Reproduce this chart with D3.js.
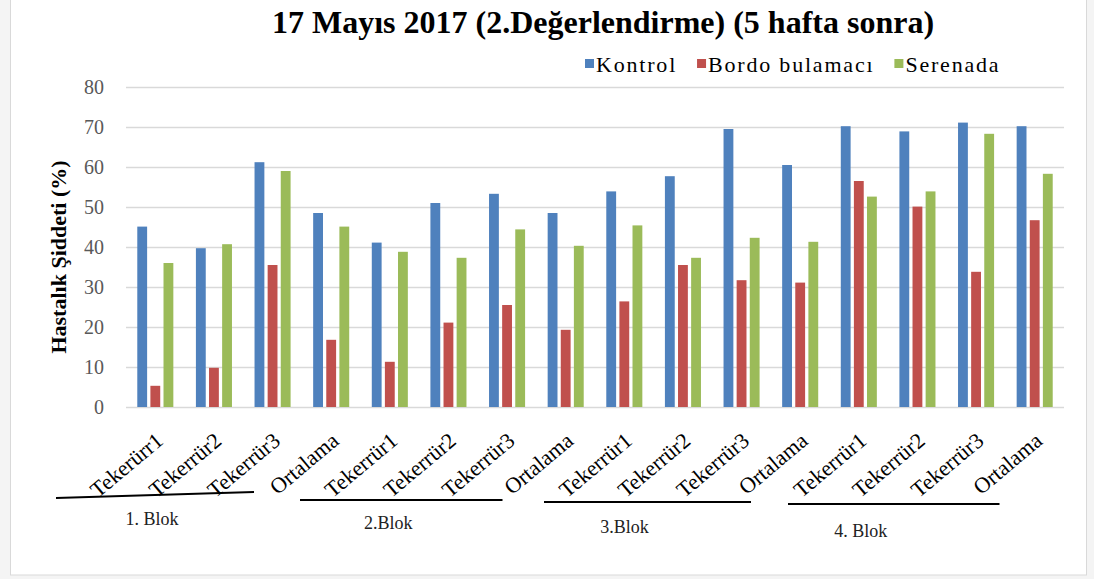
<!DOCTYPE html>
<html>
<head>
<meta charset="utf-8">
<script src="https://cdn.jsdelivr.net/npm/d3@7"></script>
<style>
  body { margin: 0; background: #f4f4f4; }
  svg { display: block; font-family: "Liberation Serif", "Times New Roman", serif; }
</style>
</head>
<body>
<svg id="chart" width="1094" height="579"></svg>
<script>
// Veriler
const categories = [
  "Tekerürr1", "Tekerrür2", "Tekerrür3", "Ortalama",
  "Tekerrür1", "Tekerrür2", "Tekerrür3", "Ortalama",
  "Tekerrür1", "Tekerrür2", "Tekerrür3", "Ortalama",
  "Tekerrür1", "Tekerrür2", "Tekerrür3", "Ortalama"
];
const kontrol  = [45.1, 39.7, 61.2, 48.5, 41.1, 51.0, 53.3, 48.5, 53.9, 57.7, 69.5, 60.5, 70.2, 68.9, 71.1, 70.2];
const bordo    = [5.3, 9.8, 35.5, 16.8, 11.3, 21.1, 25.5, 19.3, 26.4, 35.5, 31.7, 31.1, 56.5, 50.1, 33.8, 46.7];
const serenada = [36.0, 40.7, 59.0, 45.1, 38.8, 37.3, 44.4, 40.3, 45.4, 37.3, 42.3, 41.3, 52.6, 53.9, 68.3, 58.3];
const seriesNames = ["Kontrol", "Bordo bulamacı", "Serenada"];
const blocks = ["1. Blok", "2.Blok", "3.Blok", "4. Blok"];
const yTicks = [0, 10, 20, 30, 40, 50, 60, 70, 80];

const colors = ["#4f81bd", "#c0504d", "#9bbb59"];
const seriesValues = [kontrol, bordo, serenada];

const svg = d3.select("#chart");

// çerçeve
svg.append("rect")
  .attr("x", 10.5).attr("y", -1)
  .attr("width", 1076).attr("height", 576)
  .attr("fill", "#fff")
  .attr("stroke", "#d9d9d9");

const x = d3.scaleBand()
  .domain(d3.range(categories.length))
  .range([126, 1064])
  .paddingInner(0.385)
  .paddingOuter(0.1925);

const xSub = d3.scaleBand()
  .domain(d3.range(3))
  .range([0, x.bandwidth()])
  .paddingInner(0.25);

const y = d3.scaleLinear().domain([0, 80]).range([407, 87]);

// grid
svg.append("g")
  .selectAll("line")
  .data(yTicks)
  .enter().append("line")
  .attr("x1", 126).attr("x2", 1064)
  .attr("y1", d => Math.round(y(d)) + 0.5)
  .attr("y2", d => Math.round(y(d)) + 0.5)
  .attr("stroke", "#d9d9d9")
  .attr("stroke-width", 1.3);

// y ekseni
const yAxis = svg.append("g")
  .attr("transform", "translate(126,0)")
  .call(d3.axisLeft(y).tickValues(yTicks).tickSize(0).tickPadding(22));
yAxis.select(".domain").remove();
yAxis.attr("font-family", null);
yAxis.selectAll("text")
  .attr("font-size", 20)
  .attr("fill", "#595959");

// çubuklar
const groups = svg.append("g")
  .selectAll("g")
  .data(categories.map((c, i) => i))
  .enter().append("g")
  .attr("transform", i => `translate(${x(i)},0)`);

groups.selectAll("rect")
  .data(i => seriesValues.map((vals, s) => ({ s, v: vals[i] })))
  .enter().append("rect")
  .attr("x", d => xSub(d.s))
  .attr("width", xSub.bandwidth())
  .attr("y", d => y(d.v))
  .attr("height", d => y(0) - y(d.v))
  .attr("fill", d => colors[d.s]);

// x etiketleri
svg.append("g")
  .selectAll("text")
  .data(categories)
  .enter().append("text")
  .attr("transform", (d, i) => `translate(${x(i) + x.bandwidth() / 2 + 9},443) rotate(-40)`)
  .attr("text-anchor", "end")
  .attr("font-size", 22)
  .attr("fill", "#000")
  .text(d => d);

// blok çizgileri
const step = x.step();
blocks.forEach((b, i) => {
  const g0 = 126 + 4 * i * step;
  const x1 = g0 - 70 + 9.5 * i, x2 = g0 + 128 + 14 * i;
  const ly = 498 + 2 * i;
  svg.append("line")
    .attr("x1", x1).attr("x2", x2)
    .attr("y1", ly).attr("y2", i === 0 ? ly - 6 : ly)
    .attr("stroke", "#000")
    .attr("stroke-width", 2);
  svg.append("text")
    .attr("x", (x1 + x2) / 2 - 3 - 10 * i)
    .attr("y", ly + 27 + 2 * i)
    .attr("text-anchor", "middle")
    .attr("font-size", 18)
    .attr("fill", "#222")
    .text(b);
});

// y başlığı
svg.append("text")
  .attr("transform", "translate(66,257) rotate(-90)")
  .attr("text-anchor", "middle")
  .attr("font-size", 22)
  .attr("font-weight", "bold")
  .text("Hastalık Şiddeti (%)");

// başlık
svg.append("text")
  .attr("x", 603).attr("y", 33)
  .attr("text-anchor", "middle")
  .attr("font-size", 32)
  .attr("font-weight", "bold")
  .text("17 Mayıs 2017 (2.Değerlendirme) (5 hafta sonra)");

// lejant
const legend = svg.append("g").attr("transform", "translate(585,0)");
let lx = 0;
seriesNames.forEach((name, i) => {
  legend.append("rect")
    .attr("x", lx).attr("y", 59)
    .attr("width", 9).attr("height", 9)
    .attr("fill", colors[i]);
  const t = legend.append("text")
    .attr("x", lx + 11).attr("y", 72)
    .attr("font-size", 22)
    .attr("letter-spacing", 1.8)
    .attr("fill", "#000")
    .text(name);
  lx += 11 + t.node().getComputedTextLength() + 20;
});
</script>
</body>
</html>
